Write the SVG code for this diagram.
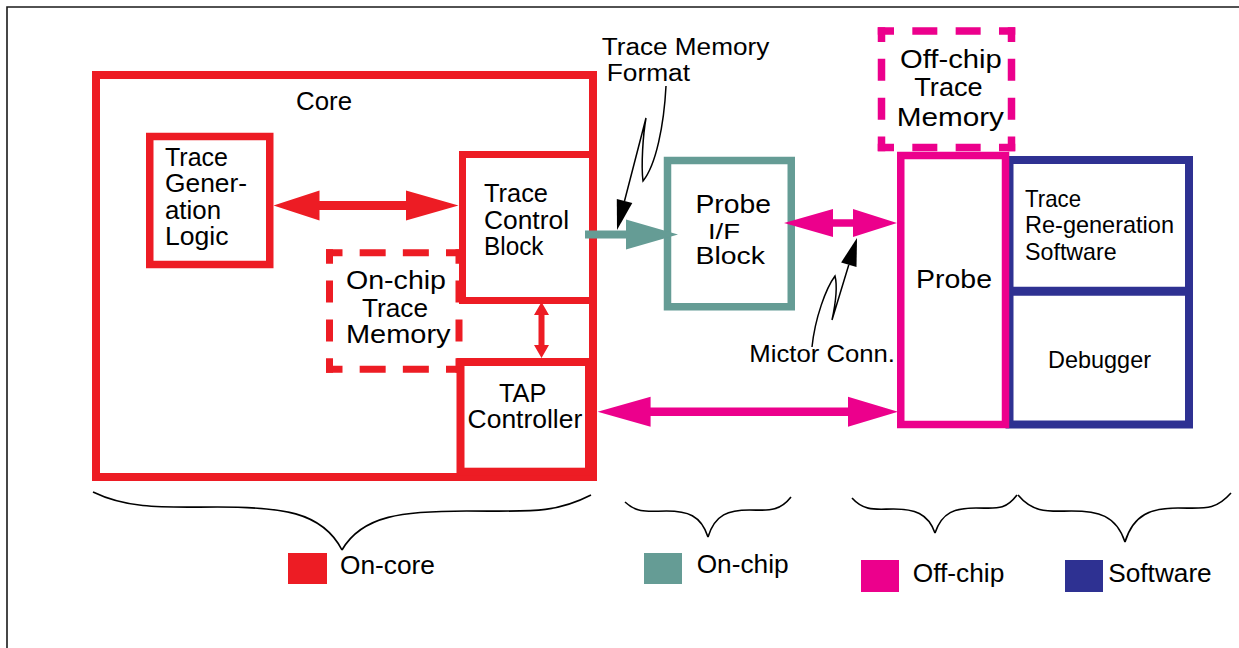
<svg xmlns="http://www.w3.org/2000/svg" width="1239" height="648" viewBox="0 0 1239 648">
<style>
text{font-family:"Liberation Sans",Arial,sans-serif;font-size:25px;fill:#000;}
.red{fill:none;stroke:#ED1C24;}
.teal{fill:none;stroke:#659C95;}
.pink{fill:none;stroke:#EC008C;}
.navy{fill:none;stroke:#2E3192;}
.lead{fill:none;stroke:#000;stroke-width:1.5;}
.brace{fill:none;stroke:#000;stroke-width:1.6;}
</style>
<rect x="0" y="0" width="1239" height="648" fill="#fff"/>
<path d="M7,648 V7 H1239" fill="none" stroke="#1a1a1a" stroke-width="1.6"/>

<g id="core">
<rect class="red" x="96" y="75" width="497" height="402" stroke-width="8"/>
<text x="296" y="110" textLength="56" lengthAdjust="spacingAndGlyphs">Core</text>
</g>

<g id="trace-generation-logic">
<rect class="red" x="149.75" y="136.5" width="120" height="128" stroke-width="7.5"/>
<text x="165" y="166" textLength="63" lengthAdjust="spacingAndGlyphs">Trace</text>
<text x="165" y="192" textLength="82" lengthAdjust="spacingAndGlyphs">Gener-</text>
<text x="165" y="218.5" textLength="56" lengthAdjust="spacingAndGlyphs">ation</text>
<text x="165" y="245" textLength="63.5" lengthAdjust="spacingAndGlyphs">Logic</text>
</g>

<g id="on-chip-trace-memory">
<g class="red" stroke-width="7" stroke-linecap="square">
<line x1="329.5" y1="252.75" x2="459" y2="252.75" stroke-dasharray="19 24.17" stroke-dashoffset="9.5"/>
<line x1="329.5" y1="369.25" x2="459" y2="369.25" stroke-dasharray="19 24.17" stroke-dashoffset="9.5"/>
<line x1="329.5" y1="252.75" x2="329.5" y2="369.25" stroke-dasharray="15 23.83" stroke-dashoffset="7.5"/>
<line x1="459" y1="252.75" x2="459" y2="369.25" stroke-dasharray="15 23.83" stroke-dashoffset="7.5"/>
</g>
<text x="346" y="289" textLength="100" lengthAdjust="spacingAndGlyphs">On-chip</text>
<text x="362" y="316.5" textLength="66" lengthAdjust="spacingAndGlyphs">Trace</text>
<text x="346" y="342.7" textLength="104.6" lengthAdjust="spacingAndGlyphs">Memory</text>
</g>

<g id="trace-control-block">
<rect class="red" x="462.5" y="154.5" width="130.5" height="146" stroke-width="7"/>
<text x="484" y="202" textLength="64" lengthAdjust="spacingAndGlyphs">Trace</text>
<text x="484" y="228.5" textLength="85" lengthAdjust="spacingAndGlyphs">Control</text>
<text x="484" y="255" textLength="59.5" lengthAdjust="spacingAndGlyphs">Block</text>
</g>

<g id="tap-controller">
<rect class="red" x="460.5" y="362" width="128.5" height="109.7" stroke-width="8"/>
<text x="499" y="401.7" textLength="47.4" lengthAdjust="spacingAndGlyphs">TAP</text>
<text x="467.6" y="427.7" textLength="114.6" lengthAdjust="spacingAndGlyphs">Controller</text>
</g>

<g id="probe-if-block">
<rect class="teal" x="667.5" y="160.5" width="123.75" height="146.25" stroke-width="7.5"/>
<text x="695.5" y="213" textLength="75.5" lengthAdjust="spacingAndGlyphs">Probe</text>
<text x="708" y="238.5" textLength="32" lengthAdjust="spacingAndGlyphs" style="font-size:22px">I/F</text>
<text x="695.5" y="263.5" textLength="69.5" lengthAdjust="spacingAndGlyphs" style="font-size:23px">Block</text>
</g>

<g id="off-chip-trace-memory">
<g class="pink" stroke-width="7.5" stroke-linecap="square">
<line x1="881.5" y1="31" x2="1011.5" y2="31" stroke-dasharray="17.5 25.83" stroke-dashoffset="8.75"/>
<line x1="881.5" y1="147.5" x2="1011.5" y2="147.5" stroke-dasharray="17.5 25.83" stroke-dashoffset="8.75"/>
<line x1="881.5" y1="31" x2="881.5" y2="147.5" stroke-dasharray="14.5 24.33" stroke-dashoffset="7.25"/>
<line x1="1011.5" y1="31" x2="1011.5" y2="147.5" stroke-dasharray="14.5 24.33" stroke-dashoffset="7.25"/>
</g>
<text x="900" y="68.3" textLength="101.7" lengthAdjust="spacingAndGlyphs">Off-chip</text>
<text x="914.3" y="96" textLength="68.4" lengthAdjust="spacingAndGlyphs">Trace</text>
<text x="896.7" y="126" textLength="107.3" lengthAdjust="spacingAndGlyphs">Memory</text>
</g>

<g id="software">
<rect class="navy" x="1009.5" y="160" width="179.5" height="264.5" stroke-width="8"/>
<line class="navy" x1="1009.5" y1="291.2" x2="1189" y2="291.2" stroke-width="9"/>
</g>

<g id="trace-regeneration-software">
<text x="1025" y="206.7" textLength="56" lengthAdjust="spacingAndGlyphs" style="font-size:24px">Trace</text>
<text x="1025" y="233.3" textLength="149" lengthAdjust="spacingAndGlyphs" style="font-size:24px">Re-generation</text>
<text x="1025" y="260" textLength="91.7" lengthAdjust="spacingAndGlyphs" style="font-size:24px">Software</text>
</g>

<g id="debugger">
<text x="1048" y="368.3" textLength="103" lengthAdjust="spacingAndGlyphs" style="font-size:24px">Debugger</text>
</g>

<g id="probe">
<rect class="pink" x="900.75" y="155.5" width="104.75" height="269" stroke-width="7.5"/>
<text x="916" y="288" textLength="76" lengthAdjust="spacingAndGlyphs">Probe</text>
</g>

<g id="connectors">
<polygon fill="#ED1C24" points="273.5,205.5 319.5,190.5 319.5,201 406,201 406,190.5 458.5,205.5 406,220.5 406,210 319.5,210 319.5,220.5"/>
<polygon fill="#ED1C24" points="541.5,302 549,315 544.5,315 544.5,345 549,345 541.5,358 534,345 538.5,345 538.5,315 534,315"/>
<polygon fill="#659C95" points="585,230.5 626,230.5 626,219.5 678,234.5 626,249.5 626,238.5 585,238.5"/>
<polygon fill="#EC008C" points="784,223 833,209 833,219.3 853,219.3 853,209 897,223 853,237 853,226.7 833,226.7 833,237"/>
<polygon fill="#EC008C" points="597.6,411.7 650.6,396.7 650.6,407.4 848,407.4 848,396.7 898,411.7 848,426.7 848,416 650.6,416 650.6,426.7"/>
<path class="lead" d="M666,86 C664,125 656,165 643,181 C641,165 643,135 646,118 L624.5,201"/>
<polygon fill="#000" points="617,230 616.8,199 632.3,203"/>
<path class="lead" d="M812,347 C815,318 826,288 835,276 C838,288 835,306 832,320 L848.8,264.8"/>
<polygon fill="#000" points="857,238 856.5,267.1 841.1,262.5"/>
</g>

<g id="trace-memory-format-label">
<text x="601.7" y="55" textLength="167.6" lengthAdjust="spacingAndGlyphs" style="font-size:23px">Trace Memory</text>
<text x="606.7" y="81" textLength="83.3" lengthAdjust="spacingAndGlyphs" style="font-size:23px">Format</text>
</g>
<g id="mictor-label">
<text x="749.3" y="361.7" textLength="145.7" lengthAdjust="spacingAndGlyphs" style="font-size:24px">Mictor Conn.</text>
</g>

<g id="braces">
<path class="brace" d="M93,492 C130,510 168,507 217.5,507 C280,507 322,511 342,550 M342,550 C362,515 404,511 466.5,511 C529,511 554,514 591,495"/>
<path class="brace" d="M625,502 C637.5,514 650,511 666.5,511 C687,511 701,515 708,537 M708,537 C715,514 729,510 749.5,510 C766,510 778.5,513 791,497"/>
<path class="brace" d="M852,498 C864.5,512 877,509 893.5,509 C914,509 928,513 935,533 M935,533 C942,512 955,508 976,508 C996.5,508 1004.7,511 1017,495"/>
<path class="brace" d="M1018,495 C1034,514 1050,511 1071.5,511 C1098,511 1116,515 1125,542 M1125,542 C1133.5,514 1151.5,508 1178,508 C1204.5,508 1215,511 1231,493"/>
</g>

<g id="legend">
<rect x="288" y="553" width="39" height="31" fill="#ED1C24"/>
<text x="340" y="574.3" textLength="95" lengthAdjust="spacingAndGlyphs">On-core</text>
<rect x="644" y="553" width="38" height="31" fill="#659C95"/>
<text x="696.7" y="573" textLength="92" lengthAdjust="spacingAndGlyphs">On-chip</text>
<rect x="861" y="560" width="38" height="32" fill="#EC008C"/>
<text x="912.7" y="581.7" textLength="91.6" lengthAdjust="spacingAndGlyphs">Off-chip</text>
<rect x="1065" y="560" width="38" height="32" fill="#2E3192"/>
<text x="1108.3" y="581.7" textLength="103.4" lengthAdjust="spacingAndGlyphs">Software</text>
</g>
</svg>
